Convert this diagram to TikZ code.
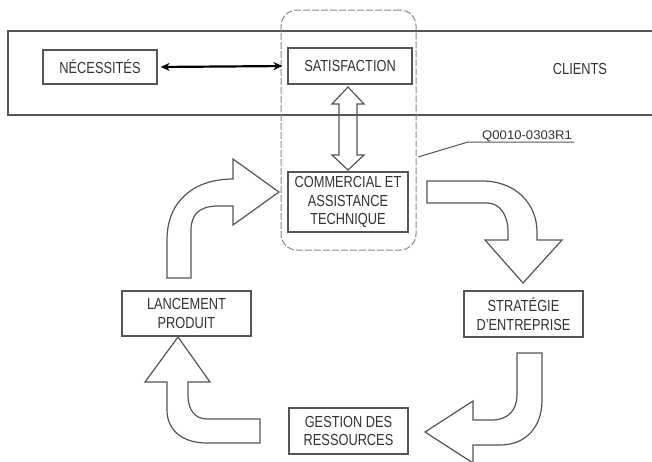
\documentclass[tikz,border=0pt]{standalone}
\usepackage{fontspec}
\setmainfont{Liberation Sans}[FakeStretch=0.8]
\newfontfamily\labelfont{Liberation Sans}[FakeStretch=1.05]
\usetikzlibrary{arrows.meta}
\definecolor{linegray}{HTML}{555555}
\definecolor{textgray}{HTML}{333333}
\definecolor{dashgray}{HTML}{8A8A8A}
\tikzset{
  box/.style={draw=linegray, line width=1.3pt, fill=white, align=center, text=textgray,
    inner sep=0pt, font=\fontsize{16}{18.5}\selectfont},
  plain/.style={text=textgray, inner sep=0pt, font=\fontsize{16}{18.5}\selectfont},
  blockarrow/.style={draw=linegray, line width=1.2pt, fill=white, line join=miter},
  band/.style={draw=linegray, line width=1.4pt},
  group/.style={draw=dashgray, line width=1pt, dash pattern=on 7pt off 2pt, rounded corners=16pt},
  leader/.style={draw=linegray, line width=1pt},
  link/.style={draw=black, line width=2.2pt, {Stealth[length=9pt,width=8pt]}-{Stealth[length=9pt,width=8pt]}}
}
\begin{document}
\begin{tikzpicture}[x=1pt,y=-1pt]
\clip (0,0) rectangle (652,461);
\fill[white] (0,0) rectangle (652,461);
% clients band
\draw[band] (652,31) -- (8,31) -- (8,115) -- (652,115);
% dashed group
\node[group, minimum width=135pt, minimum height=240pt, inner sep=0pt] (grp) at (348.5,130) {};
% nodes
\node[box, minimum width=114pt, minimum height=34pt] (nec) at (100,67) {NÉCESSITÉS};
\node[box, minimum width=124pt, minimum height=36pt] (sat) at (350,66) {SATISFACTION};
\node[plain] (cli) at (580,69) {CLIENTS};
\node[box, minimum width=120pt, minimum height=60pt] (com) at (348,202) {COMMERCIAL ET\\ASSISTANCE\\TECHNIQUE};
\node[box, minimum width=119pt, minimum height=46pt] (str) at (523.5,314) {STRATÉGIE\\D’ENTREPRISE};
\node[box, minimum width=129pt, minimum height=45pt] (lan) at (186.5,313.5) {LANCEMENT\\PRODUIT};
\node[box, minimum width=119pt, minimum height=46pt] (ges) at (348.5,431) {GESTION DES\\RESSOURCES};
% label
\node[text=textgray, inner sep=0pt, anchor=base west, font=\labelfont\fontsize{12.5}{14}\selectfont] (ql) at (482,139) {Q0010-0303R1};
\coordinate (qa) at (468,142);
\coordinate (qb) at (574,142);
\coordinate (qend) at (418,157);
\draw[leader] (qb) -- (qa) -- (qend);
% link
\draw[link, shorten <=3pt, shorten >=5pt] (nec.east) -- (sat.west);
% vertical double block arrow (sat <-> com)
\draw[blockarrow, fill=none] (348,87) -- (364,104) -- (357,104) -- (357,155) -- (364,155) -- (348,170)
  -- (332,155) -- (339,155) -- (339,104) -- (332,104) -- cycle;
% com -> str
\draw[blockarrow] (427,181) -- (482,181) .. controls (517,181) and (537,205) .. (537,232) -- (537,240)
  -- (562,240) -- (523,283) -- (485,240) -- (508,240) -- (508,232)
  .. controls (508,215) and (500,203) .. (487,203) -- (427,203) -- cycle;
% str -> ges
\draw[blockarrow] (517,353) -- (542,353) -- (542,400) .. controls (542,428) and (525,445) .. (500,445)
  -- (473,445) -- (473,463) -- (425,432) -- (473,401) -- (473,420) -- (492,420)
  .. controls (508,420) and (517,410) .. (517,395) -- cycle;
% ges -> lan
\draw[blockarrow] (178,337) -- (210,382) -- (188,382) -- (188,395) .. controls (188,410) and (195,419) .. (207,419)
  -- (260,419) -- (260,443) -- (207,443) .. controls (182,443) and (167,430) .. (167,410)
  -- (167,382) -- (145,382) -- cycle;
% lan -> com
\draw[blockarrow] (167,278) -- (167,240) .. controls (167,200) and (195,179) .. (233,179) -- (233,159)
  -- (279,192) -- (233,225) -- (233,206) -- (218,206) .. controls (200,206) and (191,214) .. (191,230)
  -- (191,278) -- cycle;
\end{tikzpicture}
\end{document}
